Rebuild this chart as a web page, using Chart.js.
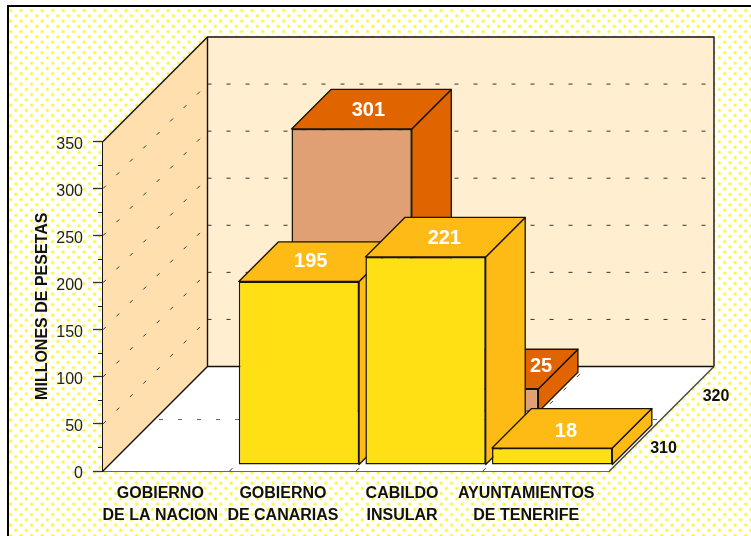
<!DOCTYPE html>
<html><head><meta charset="utf-8">
<style>html,body{margin:0;padding:0;background:#fff}canvas{display:block}</style>
<script src="https://cdn.jsdelivr.net/npm/chart.js@4"></script>
</head><body>
<canvas id="c" width="751" height="536"></canvas>
<script>
const categories = [['GOBIERNO','DE LA NACION'],['GOBIERNO','DE CANARIAS'],['CABILDO','INSULAR'],['AYUNTAMIENTOS','DE TENERIFE']];
const seriesNames = ['310','320'];
const series310 = [null,195,221,18];
const series320 = [null,301,25,null];
const yTitle = 'MILLONES DE PESETAS';

const FONT = '"Liberation Sans", Arial, sans-serif';
const DEPTH = 104.5;          // total depth of the 3D box
const BAR_DEPTH = 39.5;
const ROW_START = [6, 58.7];  // front corner of each row inside the box
const ROW_LABEL = [26, 78.5]; // where the series names sit on the depth edge
const TICK_NUDGE = [-6,-10,-17.5,-20];
const VALUE_NUDGE = [
  {1:[-8,-1],2:[-1,0],3:[-6,2]},
  {1:[-3,0],2:[43,-4]}
];

function dashed(ctx,x1,y1,x2,y2,color,offset){
  ctx.save();ctx.strokeStyle=color;ctx.lineWidth=1;ctx.setLineDash([4,15]);ctx.lineDashOffset=offset||0;
  ctx.beginPath();ctx.moveTo(x1,y1);ctx.lineTo(x2,y2);ctx.stroke();ctx.restore();
}
function poly(ctx,pts,fill,stroke,w){
  ctx.beginPath();pts.forEach((p,i)=>i?ctx.lineTo(p[0],p[1]):ctx.moveTo(p[0],p[1]));ctx.closePath();
  if(fill){ctx.fillStyle=fill;ctx.fill();}
  if(stroke){ctx.strokeStyle=stroke;ctx.lineWidth=w||1;ctx.lineJoin='round';ctx.stroke();}
}
function dotPattern(ctx){
  const t=document.createElement('canvas');t.width=21;t.height=21;const g=t.getContext('2d');
  g.fillStyle='#fff';g.fillRect(0,0,21,21);
  const spots=[[2.6,2.6],[13.1,2.6],[7.85,7.85],[18.35,7.85],[2.6,13.1],[13.1,13.1],[7.85,18.35],[18.35,18.35]];
  spots.forEach(s=>{
    for(const dx of [-21,0,21])for(const dy of [-21,0,21]){
      const r=g.createRadialGradient(s[0]+dx,s[1]+dy,0,s[0]+dx,s[1]+dy,2.3);
      r.addColorStop(0,'rgba(255,240,0,1)');r.addColorStop(.45,'rgba(255,242,20,.8)');r.addColorStop(1,'rgba(255,255,120,0)');
      g.fillStyle=r;g.fillRect(s[0]+dx-3,s[1]+dy-3,6,6);
    }
  });
  return ctx.createPattern(t,'repeat');
}

const box3d = {
  id:'box3d',
  beforeDraw(chart){
    const {ctx,scales:{x,y}}=chart;
    // background + frame
    ctx.save();
    ctx.fillStyle='#fff';ctx.fillRect(0,0,751,536);
    ctx.translate(2.7,2.7);
    ctx.fillStyle=dotPattern(ctx);ctx.fillRect(5,3,751,536);
    ctx.restore();
    ctx.fillStyle='#000';ctx.fillRect(7,5,744,2);ctx.fillRect(7,5,2,531);
    // shift tick labels to where they stand in the picture
    x.getLabelItems().forEach((it,i)=>{
      if(!it._n){it._n=1;it.options.translation[0]+=TICK_NUDGE[i];}
    });
    y.getLabelItems().forEach(it=>{
      if(!it._n){it._n=1;it.options.translation[1]+=3;}
    });
  },
  beforeDatasetsDraw(chart){
    const {ctx,chartArea:a,scales:{x,y}}=chart;
    const D=DEPTH,L=a.left,R=a.right,B=a.bottom,T=a.top;
    ctx.save();
    poly(ctx,[[L,B],[L+D,B-D],[R+D,B-D],[R,B]],'#fff');
    poly(ctx,[[L,B],[L+D,B-D],[L+D,T-D],[L,T]],'#FFDFAE');
    poly(ctx,[[L+D,B-D],[R+D,B-D],[R+D,T-D],[L+D,T-D]],'#FFEFD0');
    y.ticks.forEach(t=>{
      if(t.value===0||t.value===y.max)return;
      const py=y.getPixelForValue(t.value);
      dashed(ctx,L,py,L+D,py-D,'#333');
      dashed(ctx,L+D,py-D,R+D,py-D,'#333');
    });
    // floor grid
    const mid=52;
    dashed(ctx,L+mid+4,B-mid+.5,R+mid,B-mid+.5,'#666');
    x.ticks.forEach((t,i)=>{
      if(i===0)return;
      const px=(x.getPixelForTick(i-1)+x.getPixelForTick(i))/2;
      dashed(ctx,px,B,px+D,B-D,'#333');
    });
    // box edges
    ctx.strokeStyle='#111';ctx.lineWidth=1.4;ctx.lineJoin='miter';
    ctx.beginPath();
    ctx.moveTo(L,B);ctx.lineTo(L+D,B-D);ctx.lineTo(R+D,B-D);
    ctx.moveTo(L,T);ctx.lineTo(L+D,T-D);ctx.lineTo(R+D,T-D);ctx.lineTo(R+D,B-D);
    ctx.moveTo(L+D,T-D);ctx.lineTo(L+D,B-D);
    ctx.stroke();
    ctx.strokeStyle='#444';ctx.beginPath();ctx.moveTo(R,B);ctx.lineTo(R+D,B-D);ctx.stroke();
    // minor ticks on the value axis
    ctx.strokeStyle='#222';ctx.lineWidth=1;
    for(let i=1;i<y.ticks.length;i++){
      const py=Math.round((y.getPixelForValue(y.ticks[i].value)+y.getPixelForValue(y.ticks[i-1].value))/2)+.5;
      ctx.beginPath();ctx.moveTo(L-5,py);ctx.lineTo(L,py);ctx.stroke();
    }
    ctx.restore();
  },
  beforeDatasetDraw(chart,args){
    const {ctx}=chart,i=args.index,ds=chart.data.datasets[i],o=ROW_START[i],d=BAR_DEPTH;
    ctx.save();
    ctx.translate(o,-o);
    args.meta.data.forEach((b,k)=>{
      if(ds.data[k]==null)return;
      const l=b.x-b.width/2,r=b.x+b.width/2,t=b.y,base=b.base;
      poly(ctx,[[r,t],[r+d,t-d],[r+d,base-d],[r,base]],ds.sideColor,'#1a1400',1.3);
      poly(ctx,[[l,t],[l+d,t-d],[r+d,t-d],[r,t]],ds.sideColor,'#1a1400',1.3);
    });
  },
  afterDatasetDraw(chart){chart.ctx.restore();},
  afterDatasetsDraw(chart){
    const {ctx,chartArea:a}=chart;
    ctx.save();
    ctx.fillStyle='#fff';ctx.font='bold 20px '+FONT;ctx.textAlign='center';ctx.textBaseline='middle';
    chart.data.datasets.forEach((ds,i)=>{
      chart.getDatasetMeta(i).data.forEach((b,k)=>{
        if(ds.data[k]==null)return;
        const n=VALUE_NUDGE[i][k]||[0,0],o=ROW_START[i];
        ctx.fillText(String(ds.data[k]),b.x+o+BAR_DEPTH/2+n[0],b.y-o-BAR_DEPTH/2+n[1]+1);
      });
    });
    // series names along the depth edge
    ctx.fillStyle='#111';ctx.font='bold 16px '+FONT;
    seriesNames.forEach((s,i)=>ctx.fillText(s,a.right+ROW_LABEL[i]+28,a.bottom-ROW_LABEL[i]+4));
    ctx.restore();
  }
};

new Chart(document.getElementById('c'),{
  type:'bar',
  plugins:[box3d],
  data:{labels:categories,datasets:[
    {label:seriesNames[0],data:series310,backgroundColor:'#FFE015',sideColor:'#FFBB15',borderColor:'#1a1400',borderWidth:1.5,borderSkipped:false,clip:false,barPercentage:.95,categoryPercentage:1,grouped:false},
    {label:seriesNames[1],data:series320,backgroundColor:'#E0A074',sideColor:'#E06400',borderColor:'#1a1400',borderWidth:1.5,borderSkipped:false,clip:false,barPercentage:.95,categoryPercentage:1,grouped:false}
  ]},
  options:{
    responsive:false,animation:false,
    devicePixelRatio:1,
    layout:{padding:{left:0,right:141.5,top:141.5,bottom:0}},
    plugins:{legend:{display:false},tooltip:{enabled:false}},
    scales:{
      x:{
        type:'category',offset:true,
        grid:{display:true,drawOnChartArea:false,drawTicks:false},
        border:{display:true,color:'#666',width:2},
        ticks:{color:'#111',font:{family:FONT,size:16,weight:'bold',lineHeight:1.375},maxRotation:0,minRotation:0,autoSkip:false,padding:12},
        afterFit(s){s.height=65;}
      },
      y:{
        min:0,max:350,
        ticks:{stepSize:50,color:'#222',font:{family:FONT,size:16},padding:10},
        grid:{display:true,drawOnChartArea:false,drawTicks:true,tickLength:10,tickColor:'#333',tickWidth:1.3},
        border:{display:true,color:'#111',width:1.3},
        title:{display:true,text:yTitle,color:'#111',font:{family:FONT,size:16,weight:'bold'},padding:{top:33,bottom:0}},
        afterFit(s){s.width=103;}
      }
    }
  }
});
</script>
</body></html>
